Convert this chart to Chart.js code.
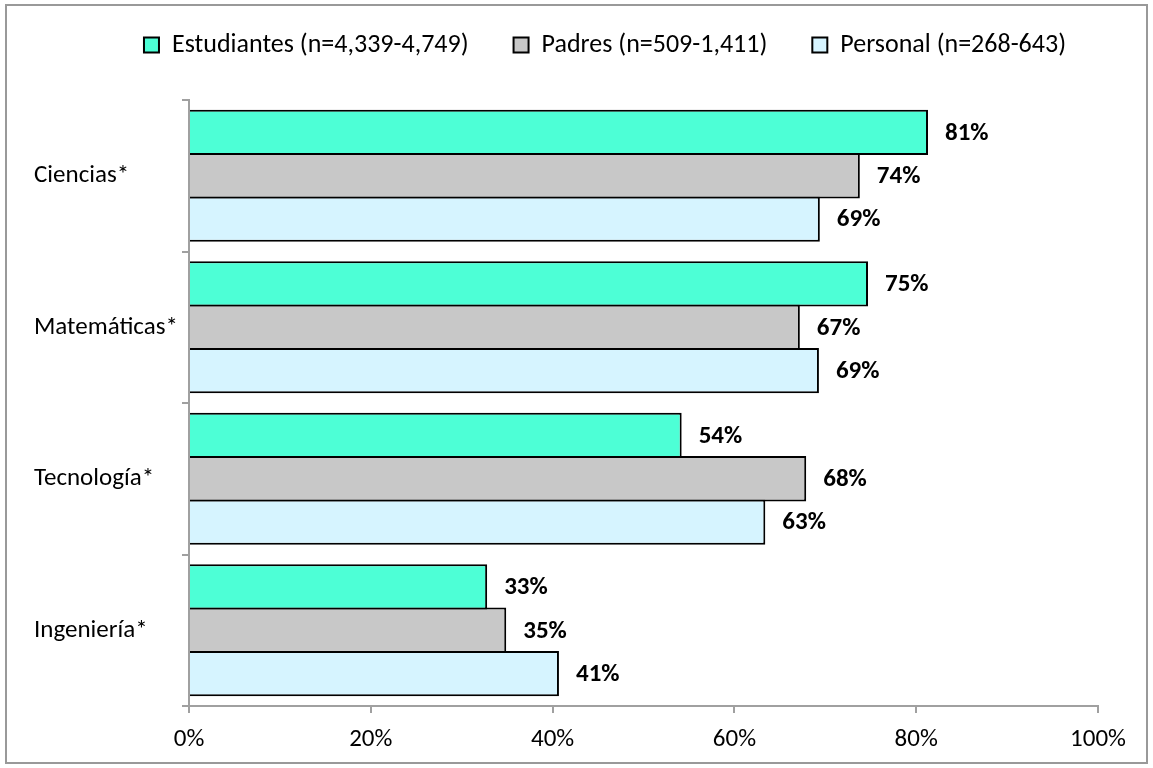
<!DOCTYPE html>
<html>
<head>
<meta charset="utf-8">
<script src="https://cdn.jsdelivr.net/npm/chart.js@4.4.0/dist/chart.umd.min.js"></script>
<style>
  html, body { margin: 0; padding: 0; background: #fff; }
</style>
</head>
<body>
<canvas id="chart" width="1153" height="768"></canvas>
<script>
// data
const categories = ['Ciencias*', 'Matemáticas*', 'Tecnología*', 'Ingeniería*'];
const seriesNames = ['Estudiantes (n=4,339-4,749)', 'Padres (n=509-1,411)', 'Personal (n=268-643)'];
const estudiantes = [81.3, 74.7, 54.2, 32.8];
const padres = [73.8, 67.2, 67.9, 34.9];
const personal = [69.4, 69.3, 63.4, 40.7];
const xTicks = [0, 20, 40, 60, 80, 100];
const colors = ['#4DFFD6', '#C8C8C8', '#D6F4FF'];

const FONT = 'Carlito, Lato, sans-serif';
const axisGray = '#A0A0A0';

// white background + grey frame round the picture
const framePlugin = {
    id: 'frame',
    beforeDraw(chart) {
        const ctx = chart.ctx;
        ctx.save();
        ctx.fillStyle = '#fff';
        ctx.fillRect(0, 0, chart.width, chart.height);
        ctx.restore();
    },
    afterDraw(chart) {
        const ctx = chart.ctx;
        ctx.save();
        ctx.strokeStyle = '#999';
        ctx.lineWidth = 2;
        ctx.strokeRect(6, 5, chart.width - 12, chart.height - 10);
        ctx.restore();
    }
};

// percentage labels at the end of each bar
const valueLabels = {
    id: 'valueLabels',
    afterDatasetsDraw(chart) {
        const ctx = chart.ctx;
        ctx.save();
        ctx.font = 'bold 25px ' + FONT;
        ctx.fillStyle = '#000';
        ctx.textAlign = 'left';
        ctx.textBaseline = 'middle';
        chart.data.datasets.forEach((ds, i) => {
            chart.getDatasetMeta(i).data.forEach((bar, j) => {
                ctx.fillText(Math.round(ds.data[j]) + '%', bar.x + 17, bar.y + 1);
            });
        });
        ctx.restore();
    }
};

// legend sits a bit right of centre and higher than chart.js would put it
const moveLegend = {
    id: 'moveLegend',
    afterLayout(chart) {
        const lg = chart.legend;
        lg.left += 39; lg.right += 39;
        lg.top -= 32; lg.bottom -= 32;
    }
};

const seriesData = [estudiantes, padres, personal];

new Chart(document.getElementById('chart').getContext('2d'), {
    type: 'bar',
    data: {
        labels: categories,
        datasets: seriesNames.map((name, i) => ({
            label: name,
            data: seriesData[i],
            backgroundColor: colors[i],
            borderColor: '#000',
            borderWidth: 2,
            barPercentage: 1.046,
            categoryPercentage: 0.859
        }))
    },
    options: {
        indexAxis: 'y',
        responsive: false,
        animation: false,
        layout: { padding: { left: 34, right: 55, top: 19, bottom: 13 } },
        plugins: {
            tooltip: { enabled: false },
            legend: {
                position: 'top',
                labels: {
                    font: { family: FONT, size: 26 },
                    color: '#000',
                    boxWidth: 15,
                    boxHeight: 15,
                    padding: 45
                }
            }
        },
        scales: {
            x: {
                min: 0,
                max: 100,
                afterBuildTicks: s => { s.ticks = xTicks.map(v => ({ value: v })); },
                ticks: {
                    callback: v => v + '%',
                    font: { family: FONT, size: 25 },
                    color: '#000',
                    padding: 12,
                    maxRotation: 0
                },
                grid: { drawOnChartArea: false, tickLength: 7, color: axisGray, lineWidth: 2 },
                border: { color: axisGray, width: 2 },
                afterFit(scale) { scale.height = 49; }
            },
            y: {
                offset: true,
                grid: { drawOnChartArea: false, tickLength: 7, color: axisGray, lineWidth: 2, offset: true },
                border: { color: axisGray, width: 2 },
                ticks: {
                    font: { family: FONT, size: 25 },
                    color: '#000',
                    crossAlign: 'far'
                },
                afterFit(scale) { scale.width = 155; }
            }
        }
    },
    plugins: [framePlugin, valueLabels, moveLegend]
});
</script>
</body>
</html>
